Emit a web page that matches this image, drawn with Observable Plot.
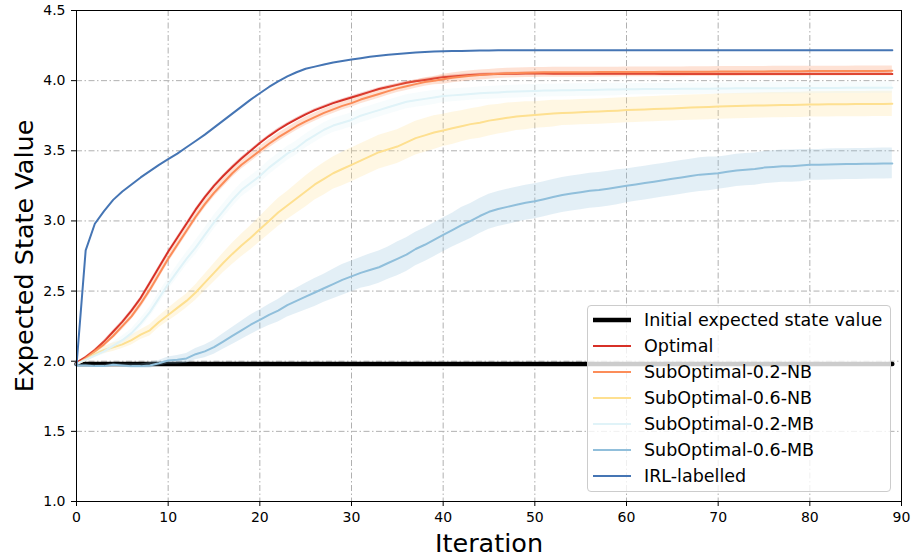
<!DOCTYPE html>
<html><head><meta charset="utf-8">
<script src="https://cdn.jsdelivr.net/npm/d3@7"></script>
<script src="https://cdn.jsdelivr.net/npm/@observablehq/plot@0.6"></script>
<style>
body{margin:0;background:#fff;font-family:"DejaVu Sans",sans-serif}
#wrap{position:relative;width:913px;height:560px;overflow:hidden}
#legend{position:absolute;left:587px;top:305px;width:304px;height:187px;box-sizing:border-box;
 background:rgba(255,255,255,0.8);border:1px solid #cccccc;border-radius:4px}
.row{position:absolute;left:0;height:26px;display:flex;align-items:center}
.row svg{margin-left:5px;margin-right:13px}
.row span{font-size:17.5px;color:#000;white-space:nowrap}
</style>
</head><body><div id="wrap"></div>
<script>
// ---- data ----
const iterations = d3.range(0, 90);
const xTicks = [0, 10, 20, 30, 40, 50, 60, 70, 80, 90];
const yTicks = [1.0, 1.5, 2.0, 2.5, 3.0, 3.5, 4.0, 4.5];
const initialValue = 1.98;
const initialLabel = "Initial expected state value";
const seriesNames = ["Optimal", "SubOptimal-0.2-NB", "SubOptimal-0.6-NB", "SubOptimal-0.2-MB", "SubOptimal-0.6-MB", "IRL-labelled"];
const seriesColors = ["#d73027", "#fc8d59", "#fee090", "#e0f3f8", "#91bfdb", "#4575b4"];

const optimal = [1.99,2.03,2.08,2.14,2.21,2.28,2.36,2.45,2.56,2.67,
2.78,2.88,2.98,3.08,3.17,3.25,3.32,3.385,3.445,3.50,
3.555,3.605,3.65,3.69,3.725,3.76,3.79,3.815,3.84,3.86,
3.88,3.90,3.92,3.94,3.955,3.97,3.985,3.995,4.005,4.015,
4.025,4.03,4.035,4.04,4.043,4.046,4.048,4.05,4.05,4.051,
4.051,4.051,4.05,4.05,4.05,4.05,4.05,4.049,4.049,4.049,
4.049,4.049,4.049,4.049,4.048,4.048,4.048,4.048,4.048,4.048,
4.048,4.048,4.048,4.048,4.048,4.048,4.048,4.048,4.048,4.048,
4.048,4.048,4.048,4.048,4.048,4.048,4.048,4.048,4.048,4.048];
const optimalSd = [0,0.005,0.005,0.01,0.01,0.01,0.01,0.01,0.01,0.01,
0.01,0.01,0.01,0.01,0.01,0.01,0.01,0.01,0.01,0.01,
0.01,0.01,0.01,0.01,0.01,0.01,0.01,0.01,0.01,0.01,
0.01,0.01,0.01,0.01,0.01,0.01,0.01,0.01,0.01,0.01,
0.01,0.01,0.01,0.01,0.01,0.01,0.01,0.01,0.01,0.01,
0.01,0.01,0.01,0.01,0.01,0.01,0.01,0.01,0.01,0.01,
0.01,0.01,0.01,0.01,0.01,0.01,0.01,0.01,0.01,0.01,
0.01,0.01,0.01,0.01,0.01,0.01,0.01,0.01,0.01,0.01,
0.01,0.01,0.01,0.01,0.01,0.01,0.01,0.01,0.01,0.01];

const nb02 = [1.98,2.02,2.07,2.12,2.18,2.25,2.32,2.41,2.51,2.62,
2.73,2.83,2.93,3.03,3.12,3.20,3.27,3.34,3.40,3.45,
3.50,3.55,3.595,3.635,3.675,3.71,3.74,3.77,3.795,3.82,
3.84,3.865,3.885,3.905,3.925,3.945,3.96,3.975,3.99,4.00,
4.01,4.02,4.028,4.035,4.04,4.045,4.05,4.053,4.055,4.057,
4.058,4.059,4.06,4.06,4.06,4.06,4.06,4.061,4.061,4.061,
4.062,4.062,4.062,4.062,4.063,4.063,4.063,4.064,4.064,4.064,
4.065,4.065,4.065,4.066,4.066,4.066,4.067,4.067,4.067,4.067,
4.068,4.068,4.068,4.068,4.068,4.069,4.069,4.069,4.069,4.07];
const nb02Sd = [0,0.01,0.015,0.02,0.02,0.025,0.025,0.03,0.03,0.03,
0.03,0.03,0.03,0.03,0.03,0.03,0.03,0.03,0.03,0.03,
0.03,0.03,0.03,0.03,0.03,0.03,0.03,0.03,0.03,0.03,
0.03,0.03,0.03,0.03,0.03,0.03,0.03,0.03,0.03,0.03,
0.035,0.035,0.035,0.035,0.035,0.035,0.035,0.035,0.035,0.035,
0.035,0.035,0.035,0.035,0.035,0.035,0.035,0.035,0.035,0.035,
0.035,0.035,0.035,0.035,0.035,0.035,0.035,0.035,0.035,0.035,
0.035,0.035,0.035,0.035,0.035,0.035,0.035,0.035,0.035,0.035,
0.035,0.035,0.035,0.035,0.035,0.035,0.035,0.035,0.035,0.035];

const nb06 = [1.98,2.01,2.05,2.08,2.10,2.12,2.15,2.19,2.22,2.28,
2.33,2.38,2.43,2.49,2.56,2.63,2.70,2.765,2.825,2.88,
2.94,3.00,3.06,3.11,3.16,3.21,3.26,3.30,3.34,3.37,
3.40,3.43,3.46,3.49,3.51,3.53,3.56,3.59,3.61,3.63,
3.645,3.66,3.675,3.69,3.70,3.715,3.725,3.735,3.745,3.75,
3.755,3.76,3.765,3.77,3.772,3.775,3.778,3.78,3.783,3.786,
3.79,3.792,3.795,3.797,3.80,3.802,3.805,3.808,3.81,3.812,
3.815,3.817,3.819,3.821,3.822,3.823,3.825,3.826,3.827,3.828,
3.83,3.83,3.831,3.832,3.832,3.833,3.833,3.834,3.834,3.835];
const nb06Sd = [0,0.01,0.02,0.025,0.03,0.03,0.035,0.035,0.04,0.04,
0.045,0.05,0.05,0.055,0.06,0.065,0.07,0.075,0.08,0.085,
0.09,0.095,0.10,0.10,0.105,0.11,0.11,0.115,0.115,0.12,
0.12,0.12,0.12,0.12,0.12,0.12,0.12,0.12,0.12,0.12,
0.115,0.115,0.11,0.11,0.11,0.11,0.105,0.105,0.10,0.10,
0.095,0.095,0.095,0.09,0.09,0.09,0.09,0.09,0.09,0.09,
0.09,0.09,0.09,0.09,0.09,0.09,0.09,0.09,0.09,0.09,
0.09,0.09,0.09,0.09,0.09,0.09,0.09,0.09,0.09,0.09,
0.09,0.09,0.09,0.09,0.09,0.09,0.09,0.09,0.09,0.09];

const mb02 = [1.98,2.01,2.04,2.07,2.11,2.15,2.20,2.27,2.35,2.45,
2.55,2.64,2.73,2.81,2.90,2.99,3.07,3.15,3.22,3.27,
3.32,3.38,3.43,3.48,3.52,3.57,3.61,3.65,3.68,3.70,
3.72,3.75,3.77,3.79,3.81,3.83,3.85,3.86,3.87,3.88,
3.89,3.895,3.90,3.905,3.91,3.913,3.916,3.92,3.922,3.925,
3.927,3.929,3.93,3.931,3.932,3.933,3.934,3.935,3.936,3.937,
3.938,3.939,3.94,3.94,3.941,3.941,3.942,3.942,3.943,3.943,
3.944,3.944,3.945,3.945,3.945,3.946,3.946,3.946,3.947,3.947,
3.947,3.948,3.948,3.948,3.949,3.949,3.949,3.95,3.95,3.95];
const mb02Sd = [0,0.01,0.015,0.02,0.025,0.03,0.03,0.035,0.035,0.04,
0.04,0.045,0.045,0.05,0.05,0.05,0.05,0.05,0.05,0.05,
0.05,0.05,0.05,0.05,0.05,0.05,0.05,0.05,0.05,0.05,
0.05,0.05,0.05,0.05,0.05,0.05,0.05,0.05,0.05,0.05,
0.045,0.045,0.045,0.045,0.045,0.045,0.045,0.045,0.045,0.045,
0.045,0.045,0.045,0.045,0.045,0.045,0.045,0.045,0.045,0.045,
0.04,0.04,0.04,0.04,0.04,0.04,0.04,0.04,0.04,0.04,
0.04,0.04,0.04,0.04,0.04,0.04,0.04,0.04,0.04,0.04,
0.04,0.04,0.04,0.04,0.04,0.04,0.04,0.04,0.04,0.04];

const mb06 = [1.97,1.97,1.965,1.965,1.975,1.97,1.965,1.965,1.97,1.985,
2.005,2.01,2.02,2.05,2.07,2.10,2.14,2.18,2.22,2.26,
2.295,2.33,2.36,2.40,2.43,2.46,2.49,2.52,2.55,2.58,
2.605,2.63,2.65,2.67,2.70,2.73,2.76,2.80,2.83,2.865,
2.90,2.935,2.97,3.00,3.035,3.065,3.085,3.10,3.115,3.13,
3.14,3.155,3.17,3.185,3.195,3.205,3.215,3.22,3.23,3.24,
3.25,3.26,3.27,3.28,3.29,3.30,3.31,3.32,3.33,3.335,
3.34,3.35,3.36,3.365,3.37,3.38,3.385,3.39,3.39,3.395,
3.40,3.40,3.402,3.404,3.405,3.406,3.407,3.408,3.409,3.41];
const mb06Sd = [0.01,0.01,0.01,0.01,0.01,0.01,0.015,0.015,0.02,0.02,
0.025,0.03,0.035,0.04,0.045,0.05,0.055,0.06,0.065,0.07,
0.07,0.075,0.08,0.085,0.09,0.095,0.10,0.10,0.105,0.11,
0.11,0.11,0.115,0.115,0.115,0.12,0.12,0.12,0.12,0.12,
0.12,0.12,0.125,0.125,0.125,0.125,0.125,0.125,0.125,0.125,
0.125,0.125,0.125,0.125,0.125,0.125,0.125,0.125,0.125,0.125,
0.12,0.12,0.12,0.12,0.12,0.12,0.12,0.12,0.12,0.12,
0.115,0.115,0.115,0.115,0.115,0.115,0.115,0.115,0.115,0.115,
0.11,0.11,0.11,0.11,0.11,0.11,0.11,0.11,0.11,0.11];

const irl = [1.97,2.79,2.98,3.07,3.15,3.21,3.26,3.31,3.355,3.40,
3.44,3.48,3.525,3.57,3.615,3.665,3.715,3.765,3.815,3.865,
3.91,3.955,3.995,4.03,4.06,4.085,4.10,4.115,4.13,4.14,
4.15,4.16,4.17,4.178,4.185,4.19,4.195,4.20,4.204,4.207,
4.21,4.211,4.212,4.213,4.214,4.215,4.216,4.216,4.216,4.216,
4.217,4.217,4.217,4.217,4.217,4.217,4.217,4.217,4.217,4.217,
4.217,4.217,4.217,4.217,4.217,4.217,4.217,4.217,4.217,4.217,
4.217,4.217,4.217,4.217,4.217,4.217,4.217,4.217,4.217,4.217,
4.217,4.217,4.217,4.217,4.217,4.217,4.217,4.217,4.217,4.217];
const irlSd = null;

const seriesValues = [optimal, nb02, nb06, mb02, mb06, irl];
const seriesSpread = [optimalSd, nb02Sd, nb06Sd, mb02Sd, mb06Sd, irlSd];

// ---- build ----
const gridStyle = {stroke: "#b0b0b0", strokeOpacity: 1, strokeWidth: 1, strokeDasharray: "6,2.5,1.5,2.5"};
const marks = [
  Plot.gridX(xTicks, gridStyle),
  Plot.gridY(yTicks, gridStyle),
  Plot.lineY([iterations[0], iterations[iterations.length - 1]], {x: d => d, y: () => initialValue, stroke: "#000", strokeWidth: 4.5})
];
seriesNames.forEach((name, i) => {
  const rows = iterations.map((it, k) => ({
    x: it, y: seriesValues[i][k],
    lo: seriesSpread[i] ? seriesValues[i][k] - seriesSpread[i][k] : null,
    hi: seriesSpread[i] ? seriesValues[i][k] + seriesSpread[i][k] : null
  }));
  marks.push(Plot.lineY(rows, {x: "x", y: "y", stroke: seriesColors[i], strokeWidth: 2}));
  if (seriesSpread[i]) marks.push(Plot.areaY(rows, {x: "x", y1: "lo", y2: "hi", fill: seriesColors[i], fillOpacity: 0.25}));
});
marks.push(
  Plot.frame({stroke: "#000", strokeWidth: 1}),
  Plot.axisX(xTicks, {tickSize: 5, tickPadding: 6, fontSize: 14, label: null}),
  Plot.axisY(yTicks, {tickSize: 5, tickPadding: 6, fontSize: 14, label: null, tickFormat: d3.format(".1f")}),
  Plot.text(["Iteration"], {frameAnchor: "bottom", textAnchor: "middle", lineAnchor: "middle", dy: 42.5, fontSize: 25.5, fill: "#000"}),
  Plot.text(["Expected State Value"], {frameAnchor: "left", textAnchor: "middle", lineAnchor: "middle", dx: -52, rotate: -90, fontSize: 25.5, fill: "#000"})
);

const chart = Plot.plot({
  width: 913, height: 560,
  marginLeft: 76, marginRight: 12, marginTop: 10, marginBottom: 59,
  x: {domain: [0, 90]},
  y: {domain: [1.0, 4.5]},
  style: {fontFamily: "DejaVu Sans", fontSize: "14px", color: "#000", background: "#fff", overflow: "visible"},
  marks
});
const wrap = document.getElementById("wrap");
wrap.appendChild(chart);

// legend inside the axes (matplotlib-style)
const legend = document.createElement("div");
legend.id = "legend";
const entries = [{name: initialLabel, color: "#000", w: 4.5}].concat(seriesNames.map((n, i) => ({name: n, color: seriesColors[i], w: 2})));
entries.forEach((e, i) => {
  const row = document.createElement("div");
  row.className = "row";
  row.style.top = (0.5 + i * 26.1) + "px";
  row.innerHTML = `<svg width="38" height="10"><line x1="0" x2="38" y1="5" y2="5" stroke="${e.color}" stroke-width="${e.w}"/></svg><span>${e.name}</span>`;
  legend.appendChild(row);
});
wrap.appendChild(legend);
</script></body></html>
